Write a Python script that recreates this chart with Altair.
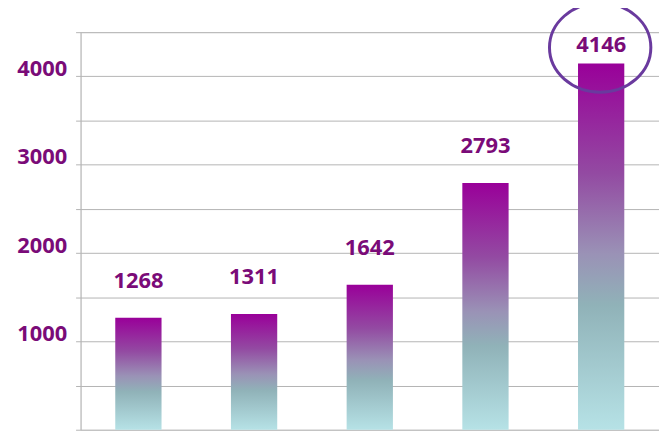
import altair as alt
import pandas as pd

categories = ["A", "B", "C", "D", "E"]
values = [1268, 1311, 1642, 2793, 4146]
highlight = [False, False, False, False, True]
y_ticks = [0, 500, 1000, 1500, 2000, 2500, 3000, 3500, 4000, 4500]

df = pd.DataFrame({"cat": categories, "value": values, "hl": highlight})

purple_text = "#7a0b78"
grad = alt.LinearGradient(
    gradient="linear", x1=0, y1=0, x2=0, y2=1,
    stops=[
        alt.GradientStop(color="#990099", offset=0),
        alt.GradientStop(color="#934aa2", offset=0.3),
        alt.GradientStop(color="#9a92b6", offset=0.52),
        alt.GradientStop(color="#90b2b8", offset=0.66),
        alt.GradientStop(color="#b6e2e6", offset=1),
    ],
)

x = alt.X("cat:N", sort=categories,
          scale=alt.Scale(paddingInner=0.6, paddingOuter=0.3),
          axis=alt.Axis(title=None, labels=False, ticks=False, domain=False, grid=False))
y = alt.Y("value:Q",
          scale=alt.Scale(domain=[0, 4500], nice=False),
          axis=alt.Axis(title=None, values=y_ticks, grid=True, gridColor="#b4b4b4",
                        gridWidth=1, domainColor="#b4b4b4", tickColor="#b4b4b4",
                        tickSize=5, labelExpr="datum.value % 1000 == 0 && datum.value > 0 ? datum.value : ''",
                        labelColor=purple_text, labelFont="Open Sans", labelFontWeight="bold",
                        labelFontSize=22, labelPadding=9, labelOffset=-8))

base = alt.Chart(df).encode(x=x, y=y)

bars = base.mark_bar(color=grad)
labels = base.transform_filter("!datum.hl").mark_text(
    dy=-37, font="Open Sans", fontWeight="bold", fontSize=22, color=purple_text
).encode(text=alt.Text("value:Q", format="d"))
label_hl = base.transform_filter("datum.hl").mark_text(
    dy=-19, font="Open Sans", fontWeight="bold", fontSize=22, color=purple_text
).encode(text=alt.Text("value:Q", format="d"))
ring = base.transform_filter("datum.hl").mark_point(
    shape="M-1,0 A1,0.88 0 1,1 1,0 A1,0.88 0 1,1 -1,0 Z",
    size=10400, filled=False, stroke="#6a3a9e", strokeWidth=3, opacity=1,
    yOffset=-16, xOffset=-1
)

chart = alt.layer(bars, labels, label_hl, ring).properties(
    width=582, height=400,
    autosize=alt.AutoSizeParams(type="none"),
    padding={"left": 73, "top": 23, "right": 0, "bottom": 5},
).configure_view(stroke=None).configure(background="white")

chart.save("out.html", embed_options={"renderer": "svg", "actions": False})
